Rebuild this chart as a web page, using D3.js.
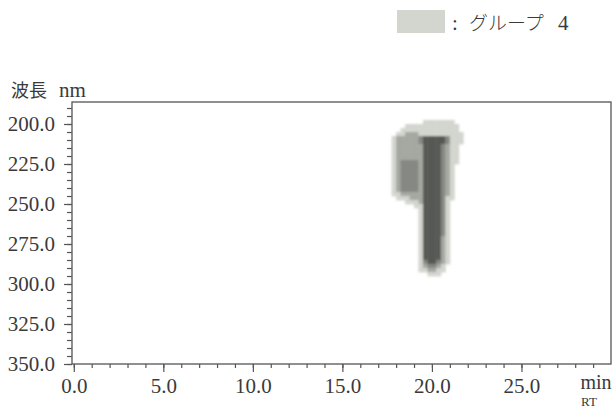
<!DOCTYPE html>
<html>
<head>
<meta charset="utf-8">
<script src="https://cdn.jsdelivr.net/npm/d3@7/dist/d3.min.js"></script>
<style>
  body { margin: 0; background: #fff; }
  svg { display: block; }
  .tick text { font-family: "Liberation Serif", serif; font-size: 21px; fill: #3a3a3a; }
  .tick line { stroke: #555; stroke-width: 1.2; }
</style>
</head>
<body>
<div id="chart"></div>
<script>
// tick values
var rtMajor = [0, 5, 10, 15, 20, 25];
var rtMinor = [0, 1, 2, 3, 4, 5, 6, 7, 8, 9, 10, 11, 12, 13, 14, 15, 16, 17, 18, 19, 20, 21, 22, 23, 24, 25, 26, 27, 28, 29];
var wlMajor = [200, 225, 250, 275, 300, 325, 350];
var wlMinor = [190, 195, 200, 205, 210, 215, 220, 225, 230, 235, 240, 245, 250, 255, 260, 265, 270, 275, 280, 285, 290, 295, 300, 305, 310, 315, 320, 325, 330, 335, 340, 345, 350];

// heatmap bins (RT min, wavelength nm)
var rtBins = [17.0, 17.25, 17.5, 17.75, 18.0, 18.25, 18.5, 18.75, 19.0, 19.25, 19.5, 19.75, 20.0, 20.25, 20.5, 20.75, 21.0, 21.25, 21.5, 21.75];
var wlBins = [195, 197.5, 200, 202.5, 205, 207.5, 210, 212.5, 215, 217.5, 220, 222.5, 225, 227.5, 230, 232.5, 235, 237.5, 240, 242.5,
              245, 247.5, 250, 252.5, 255, 257.5, 260, 262.5, 265, 267.5, 270, 272.5, 275, 277.5, 280, 282.5, 285, 287.5, 290, 292.5, 295];

// intensity level per cell (0 = none .. 4 = strongest), one string per wavelength bin
var levels = [
  "....................",
  "..........1111111...",
  "......111111111111..",
  ".....1111111111111..",
  "....112221111111111.",
  "...1222223444443111.",
  "...1222223444443111.",
  "...122222244443211..",
  "...122222244443211..",
  "...122222244443211..",
  "...122222244443211..",
  "...123333244443211..",
  "...12333324444321...",
  "...12333324444321...",
  "...12333324444321...",
  "...12333324444321...",
  "...12333324444321...",
  "...12333324444321...",
  "...12333324444321...",
  "...11222224444321...",
  "....1112224444311...",
  "......1112444431....",
  "........11444431....",
  ".........1444431....",
  ".........1444431....",
  ".........1444431....",
  ".........1444431....",
  ".........1444431....",
  ".........1444431....",
  ".........1444431....",
  ".........1444421....",
  ".........1444421....",
  ".........1444421....",
  ".........1444421....",
  ".........1444421....",
  ".........1444421....",
  ".........1344321....",
  ".........123321.....",
  ".........112211.....",
  "...........111......",
  "...................."
];

var width = 613, height = 410;
var plotLeft = 72, plotRight = 611, plotTop = 102, plotBottom = 364;

var x = d3.scaleLinear().domain([-0.1, 30]).range([plotLeft, plotRight]);
var y = d3.scaleLinear().domain([186.25, 350]).range([plotTop, plotBottom]);
var shade = d3.scaleOrdinal().domain([1, 2, 3, 4])
  .range(["#d3d6cf", "#a5a8a1", "#858882", "#565954"]);

var svg = d3.select("#chart").append("svg")
  .attr("width", width)
  .attr("height", height);

svg.append("defs").append("filter")
  .attr("id", "soft")
  .append("feGaussianBlur")
  .attr("stdDeviation", 0.9);

// heatmap cells
var cells = [];
for (var r = 0; r < wlBins.length; r++) {
  for (var c = 0; c < rtBins.length; c++) {
    var v = +levels[r][c] || 0;
    if (v > 0) cells.push({rt: rtBins[c], wl: wlBins[r], v: v});
  }
}

svg.append("g")
  .attr("filter", "url(#soft)")
  .selectAll("rect")
  .data(cells)
  .enter()
  .append("rect")
  .attr("x", function(d) { return x(d.rt); })
  .attr("y", function(d) { return y(d.wl); })
  .attr("width", function(d) { return x(d.rt + 0.25) - x(d.rt) + 0.4; })
  .attr("height", function(d) { return y(d.wl + 2.5) - y(d.wl) + 0.4; })
  .attr("fill", function(d) { return shade(d.v); });

// frame
svg.append("rect")
  .attr("x", plotLeft).attr("y", plotTop)
  .attr("width", plotRight - plotLeft).attr("height", plotBottom - plotTop)
  .attr("fill", "none")
  .attr("stroke", "#555")
  .attr("stroke-width", 1.3);

// y axis
svg.append("g")
  .attr("transform", "translate(" + plotLeft + ",0)")
  .call(d3.axisLeft(y).tickValues(wlMinor).tickSize(5).tickFormat(""))
  .call(function(g) { g.select(".domain").remove(); });

svg.append("g")
  .attr("transform", "translate(" + plotLeft + ",0)")
  .call(d3.axisLeft(y).tickValues(wlMajor).tickSize(8).tickPadding(9).tickFormat(d3.format(".1f")))
  .call(function(g) { g.select(".domain").remove(); });

// x axis
svg.append("g")
  .attr("transform", "translate(0," + plotBottom + ")")
  .call(d3.axisBottom(x).tickValues(rtMinor).tickSize(4).tickFormat(""))
  .call(function(g) { g.select(".domain").remove(); });

svg.append("g")
  .attr("transform", "translate(0," + plotBottom + ")")
  .call(d3.axisBottom(x).tickValues(rtMajor).tickSize(8).tickFormat(d3.format(".1f")))
  .call(function(g) {
    g.select(".domain").remove();
    g.selectAll("text").attr("dy", null).attr("y", 29);
  });

// axis titles
svg.append("text")
  .attr("x", 11).attr("y", 97)
  .attr("font-family", "Noto Sans CJK JP")
  .attr("font-size", 18)
  .attr("fill", "#3a3a3a")
  .text("波長");

svg.append("text")
  .attr("x", 59).attr("y", 97)
  .attr("font-family", "Liberation Serif, serif")
  .attr("font-size", 21)
  .attr("fill", "#3a3a3a")
  .text("nm");

svg.append("text")
  .attr("x", 596).attr("y", 389)
  .attr("text-anchor", "middle")
  .attr("font-family", "Liberation Serif, serif")
  .attr("font-size", 20)
  .attr("fill", "#3a3a3a")
  .text("min");

svg.append("text")
  .attr("x", 589).attr("y", 406)
  .attr("text-anchor", "middle")
  .attr("font-family", "Liberation Serif, serif")
  .attr("font-size", 13)
  .attr("fill", "#3a3a3a")
  .text("RT");

// legend
svg.append("rect")
  .attr("x", 397).attr("y", 10)
  .attr("width", 48).attr("height", 23)
  .attr("fill", shade(1));

svg.append("text")
  .attr("x", 455).attr("y", 30)
  .attr("text-anchor", "middle")
  .attr("font-family", "Liberation Serif, serif")
  .attr("font-size", 21)
  .attr("fill", "#3a3a3a")
  .text(":");

svg.append("text")
  .attr("x", 469).attr("y", 30)
  .attr("font-family", "Noto Sans CJK JP")
  .attr("font-size", 19)
  .attr("font-weight", 300)
  .attr("fill", "#3a3a3a")
  .text("グループ");

svg.append("text")
  .attr("x", 558).attr("y", 30)
  .attr("font-family", "Liberation Serif, serif")
  .attr("font-size", 21)
  .attr("fill", "#3a3a3a")
  .text("4");
</script>
</body>
</html>
